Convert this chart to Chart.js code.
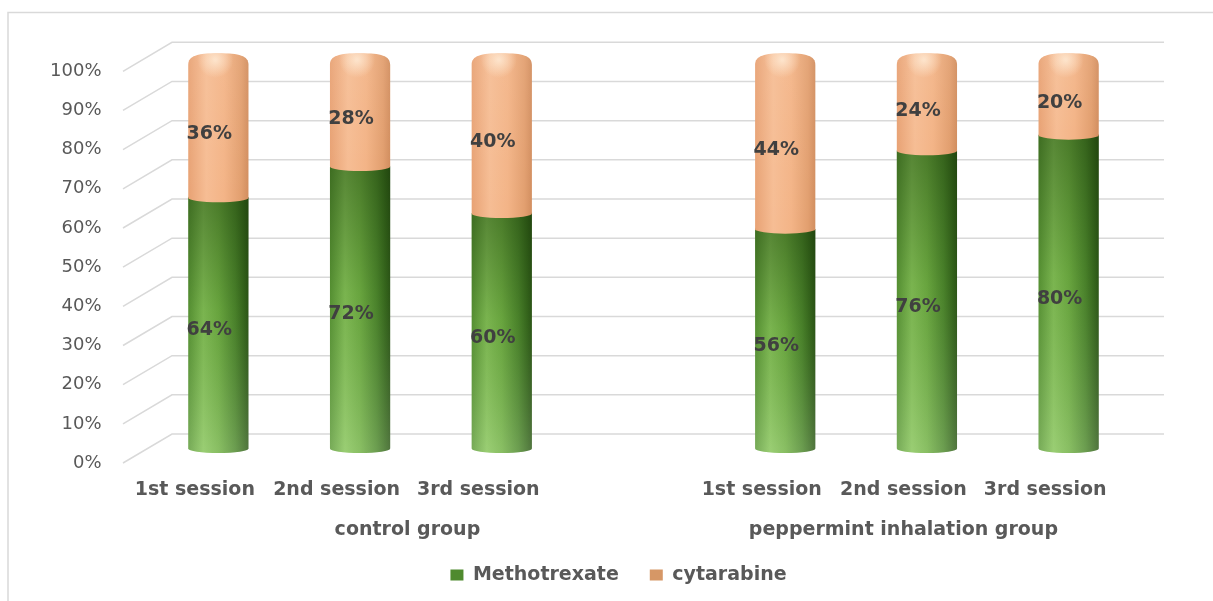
<!doctype html>
<html>
<head>
<meta charset="utf-8">
<title>Methotrexate / cytarabine by session</title>
<style>
  body { margin: 0; background: #fff; }
  #wrap { width: 1213px; height: 601px; position: relative; }
</style>
</head>
<body>
<div id="wrap"><canvas id="myChart"></canvas></div>
<script src="https://cdn.jsdelivr.net/npm/chart.js@4.4.1/dist/chart.umd.min.js"></script>
<script>
  // data
  const sessions = ['1st session', '2nd session', '3rd session', '', '1st session', '2nd session', '3rd session'];
  const groupNames = ['control group', 'peppermint inhalation group'];
  const groupFirst = [0, 4];
  const groupLast = [3, 6];
  const methotrexate = [64, 72, 60, null, 56, 76, 80];
  const cytarabine = [36, 28, 40, null, 44, 24, 20];
</script>
<script>
  const DX = 24.5, DY = 14.5;   // depth of the fake 3d floor
  const GRID = '#d9d9d9';
  const TEXT = '#595959';
  Chart.defaults.font.family = "'DejaVu Sans', sans-serif";

  const greenStops = [[0, '#5c9a37'], [0.25, '#86c458'], [0.5, '#72b245'], [0.78, '#4f8a2e'], [0.93, '#386a1e'], [1, '#2f5a19']];
  const orangeStops = [[0, '#e8a274'], [0.3, '#f6bd94'], [0.6, '#f3b487'], [0.88, '#e29f6f'], [1, '#d28e5f']];

  // cylinder: rounded cap on top, elliptic bottom
  function cylPath(ctx, el, cap) {
    const r = el.width / 2, x = el.x;
    const top = Math.min(el.y, el.base), bot = Math.max(el.y, el.base);
    const l = x - r, rt = x + r;
    ctx.beginPath();
    ctx.moveTo(l, cap ? top + 8 : top);
    ctx.lineTo(l, bot);
    ctx.ellipse(x, bot, r, 4.5, 0, Math.PI, 0, true);
    if (cap) {
      ctx.lineTo(rt, top + 8);
      ctx.bezierCurveTo(rt, top - 1, rt - r * 0.3, top - 3.5, x, top - 3.5);
      ctx.bezierCurveTo(l + r * 0.3, top - 3.5, l, top - 1, l, top + 8);
    } else {
      ctx.lineTo(rt, top);
      ctx.ellipse(x, top, r, 4.5, 0, 0, Math.PI, true);
    }
    ctx.closePath();
  }

  const floor3d = {
    id: 'floor3d',
    beforeDraw(chart) {
      const ctx = chart.ctx;
      ctx.save();
      ctx.strokeStyle = GRID;
      ctx.lineWidth = 1.5;
      ctx.beginPath();
      ctx.moveTo(8, 601);
      ctx.lineTo(8, 12.5);
      ctx.lineTo(1213, 12.5);
      ctx.stroke();
      ctx.restore();
    },
    afterLayout(chart) {
      // legend sits centred under the plot, not under the whole canvas
      if (chart.legend) chart.legend.left = 97.5;
    },
    beforeDatasetsDraw(chart) {
      const ctx = chart.ctx, y = chart.scales.y, a = chart.chartArea;
      ctx.save();
      ctx.strokeStyle = GRID;
      ctx.lineWidth = 1.5;
      y.ticks.forEach(t => {
        const py = y.getPixelForValue(t.value);
        ctx.beginPath();
        ctx.moveTo(a.left - DX, py + DY);
        ctx.lineTo(a.left + DX, py - DY);
        ctx.lineTo(a.right + DX, py - DY);
        ctx.stroke();
      });
      ctx.restore();
    }
  };

  const cylinders = {
    id: 'cylinders',
    afterDatasetsDraw(chart) {
      const ctx = chart.ctx;
      const last = chart.data.datasets.length - 1;
      ctx.save();
      chart.data.datasets.forEach((ds, di) => {
        const meta = chart.getDatasetMeta(di);
        const stops = di === 0 ? greenStops : orangeStops;
        meta.data.forEach((el, i) => {
          if (ds.data[i] == null) return;
          const r = el.width / 2;
          const top = Math.min(el.y, el.base), bot = Math.max(el.y, el.base);
          ctx.save();
          cylPath(ctx, el, di === last);
          ctx.clip();
          const g = ctx.createLinearGradient(el.x - r, 0, el.x + r, 0);
          stops.forEach(s => g.addColorStop(s[0], s[1]));
          ctx.fillStyle = g;
          ctx.fillRect(el.x - r - 2, top - 8, el.width + 4, bot - top + 16);
          const v = ctx.createLinearGradient(0, top, 0, bot);
          if (di === 0) {
            v.addColorStop(0, 'rgba(15,40,0,0.40)');
            v.addColorStop(0.45, 'rgba(15,40,0,0.10)');
            v.addColorStop(1, 'rgba(255,255,255,0.16)');
          } else {
            v.addColorStop(0, 'rgba(255,255,255,0.06)');
            v.addColorStop(1, 'rgba(255,255,255,0)');
          }
          ctx.fillStyle = v;
          ctx.fillRect(el.x - r - 2, top - 8, el.width + 4, bot - top + 16);
          if (di === last) {
            const h = ctx.createRadialGradient(el.x - r * 0.1, top + 3, 1, el.x - r * 0.1, top + 3, r * 0.6);
            h.addColorStop(0, 'rgba(255,236,215,0.8)');
            h.addColorStop(1, 'rgba(255,236,215,0)');
            ctx.fillStyle = h;
            ctx.fillRect(el.x - r - 2, top - 8, el.width + 4, 30);
          }
          ctx.restore();
        });
      });
      // value labels, a little to the front of each segment
      ctx.font = "bold 19px 'DejaVu Sans'";
      ctx.fillStyle = '#404040';
      ctx.textAlign = 'center';
      ctx.textBaseline = 'middle';
      chart.data.datasets.forEach((ds, di) => {
        chart.getDatasetMeta(di).data.forEach((el, i) => {
          if (ds.data[i] == null) return;
          ctx.fillText(ds.data[i] + '%', el.x - 9, (el.y + el.base) / 2 + 7);
        });
      });
      ctx.restore();
    }
  };

  const groupLabels = {
    id: 'groupLabels',
    afterDraw(chart) {
      const ctx = chart.ctx, x = chart.scales.x;
      ctx.save();
      ctx.font = "bold 19px 'DejaVu Sans'";
      ctx.fillStyle = TEXT;
      ctx.textAlign = 'center';
      ctx.textBaseline = 'middle';
      groupNames.forEach((name, g) => {
        const cx = (x.getPixelForValue(groupFirst[g]) + x.getPixelForValue(groupLast[g])) / 2 - DX + 1;
        ctx.fillText(name, cx, 530);
      });
      ctx.restore();
    }
  };

  const ctx = document.getElementById('myChart');
  const myChart = new Chart(ctx, {
    type: 'bar',
    data: {
      labels: sessions,
      datasets: [
        {
          label: 'Methotrexate',
          data: methotrexate,
          backgroundColor: 'rgba(0,0,0,0)',   // painted as cylinders by the plugin
          barPercentage: 0.425,
          categoryPercentage: 1,
          clip: false
        },
        {
          label: 'cytarabine',
          data: cytarabine,
          backgroundColor: 'rgba(0,0,0,0)',
          barPercentage: 0.425,
          categoryPercentage: 1,
          clip: false
        }
      ]
    },
    options: {
      responsive: true,
      maintainAspectRatio: false,
      animation: false,
      layout: { padding: { left: 0, right: 73.5, top: 54.5, bottom: 6.5 } },
      scales: {
        x: {
          stacked: true,
          grid: { display: false, drawTicks: false },
          border: { display: false },
          ticks: {
            autoSkip: false,
            maxRotation: 0,
            padding: 30,
            labelOffset: -DX + 1,
            color: TEXT,
            font: { size: 19, weight: 'bold' }
          },
          afterFit(scale) { scale.height = 86; }
        },
        y: {
          stacked: true,
          min: 0,
          max: 100,
          grid: { display: false, drawTicks: false },
          border: { display: false },
          ticks: {
            stepSize: 10,
            padding: 46,
            labelOffset: DY,
            color: TEXT,
            font: { size: 18 },
            callback: v => v + '%'
          },
          afterFit(scale) { scale.width = 147.5; }
        }
      },
      plugins: {
        tooltip: { enabled: false },
        legend: {
          position: 'bottom',
          labels: {
            boxWidth: 13,
            boxHeight: 11,
            padding: 31,
            color: TEXT,
            font: { size: 19, weight: 'bold' },
            generateLabels(chart) {
              const fills = ['#4f8a2e', '#d69766'];
              return chart.data.datasets.map((ds, i) => ({
                text: ds.label,
                fillStyle: fills[i],
                strokeStyle: fills[i],
                lineWidth: 0,
                fontColor: TEXT,
                datasetIndex: i
              }));
            }
          }
        }
      }
    },
    plugins: [floor3d, cylinders, groupLabels]
  });
</script>
</body>
</html>
